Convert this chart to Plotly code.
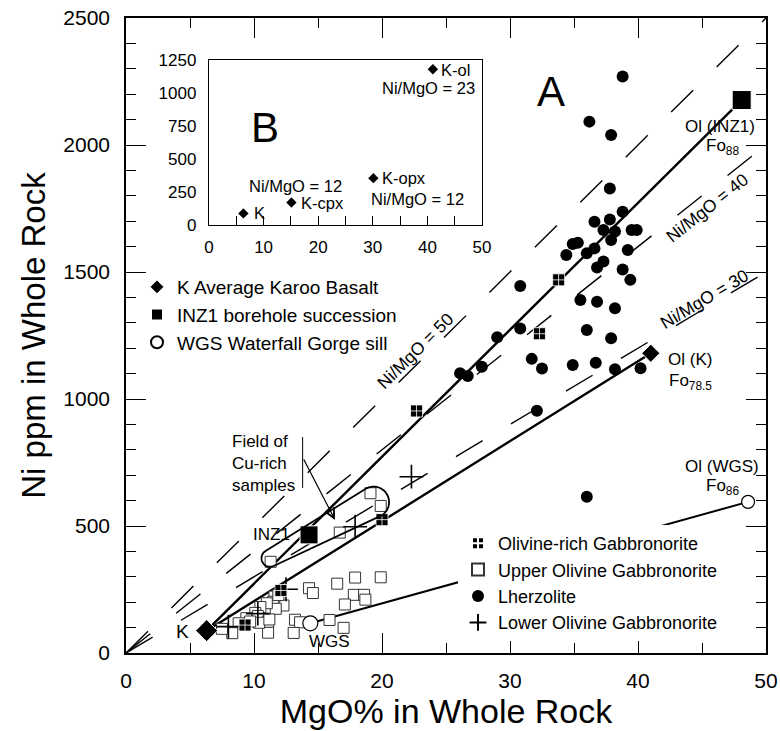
import math
import plotly.graph_objects as go

# ---------------- data ----------------
# Lherzolite (filled circles)
lherz_mgo = [38.8, 36.2, 37.9, 37.8, 38.8, 36.6, 37.8, 37.3, 38.2, 39.5, 39.9, 37.9,
             34.9, 35.3, 34.4, 36.6, 36.0, 37.3, 39.2, 38.8, 36.8, 39.4, 35.5, 36.8,
             38.2, 36.0, 37.9, 31.7, 32.5, 34.9, 36.7, 38.2, 40.2, 32.1, 30.8, 30.8,
             29.0, 26.1, 26.7, 27.8, 36.0]
lherz_ni = [2270, 2092, 2039, 1829, 1737, 1698, 1707, 1665, 1659, 1665, 1665, 1626,
            1610, 1615, 1567, 1593, 1574, 1541, 1587, 1510, 1518, 1469, 1390, 1383,
            1357, 1272, 1239, 1158, 1120, 1134, 1143, 1117, 1121, 954, 1445, 1278,
            1243, 1101, 1091, 1127, 615]

# Upper Olivine Gabbronorite (open squares)
uog_mgo = [19.1, 19.9, 16.7, 11.3, 14.3, 14.6, 16.5, 17.9, 19.9, 17.8, 17.1, 18.6,
           18.7, 15.9, 17.0, 13.2, 13.6, 13.1, 11.1, 12.3, 11.6, 11.5, 11.7, 11.0,
           10.5, 10.1, 9.4, 10.3, 11.1, 10.4, 8.8, 8.3, 7.5, 11.9, 11.2, 9.7]
uog_ni = [629, 579, 474, 359, 255, 236, 273, 297, 298, 229, 191, 229,
          210, 130, 99, 131, 121, 79, 80, 187, 222, 202, 174, 196,
          181, 158, 137, 146, 123, 119, 117, 78, 95, 228, 132, 124]

# Olivine-rich Gabbronorite
org_mgo = [22.7, 33.8, 32.3, 20.0, 12.1, 9.3]
org_ni = [953, 1469, 1257, 525, 246, 110]

# Lower Olivine Gabbronorite (+)
log_mgo = [17.9, 22.3, 12.5, 8.0, 10.3]
log_ni = [497, 694, 251, 104, 155]

# Reference compositions: [rock, olivine]
k_mgo = [6.3, 41.0]          # K average Karoo basalt, Ol (K) Fo78.5
k_ni = [88, 1180]
inz_mgo = [14.3, 48.1]       # INZ1 borehole succession, Ol (INZ1) Fo88
inz_ni = [465, 2177]
wgs_mgo = [14.4, 48.6]       # WGS Waterfall Gorge sill, Ol (WGS) Fo86
wgs_ni = [117, 595]

# Ni/MgO reference ratios (dashed lines)
ratio_values = [50, 40, 30]

# Inset B: K, K-cpx, K-opx, K-ol
inset_mgo = [6.3, 15.1, 30.1, 41.0]
inset_ni = [88, 170, 355, 1180]

# ---------------- layout constants ----------------
FONT = "Liberation Sans, Arial, Helvetica, sans-serif"
W, H = 780, 731
ML, MR, MT, MB = 126, 14, 18, 78
PW, PH = W - ML - MR, H - MT - MB
X_MAX, Y_MAX = 50, 2500
SX, SY = PW / X_MAX, PH / Y_MAX   # px per data unit

fig = go.Figure()

# dashed Ni/MgO lines through origin
for r in ratio_values:
    x_end = min(X_MAX, Y_MAX / r)
    fig.add_trace(go.Scatter(x=[0, x_end], y=[0, r * x_end], mode="lines",
                             line=dict(color="black", width=1.4, dash="31px,33px"),
                             showlegend=False, hoverinfo="skip"))

# solid tie lines
ties = [([k_mgo[0], inz_mgo[1]], [k_ni[0], inz_ni[1]], 2.4),
        ([k_mgo[0], k_mgo[1]], [k_ni[0], k_ni[1]], 2.4),
        ([wgs_mgo[0], wgs_mgo[1]], [wgs_ni[0], wgs_ni[1]], 2.0)]
for tx, ty, lw in ties:
    fig.add_trace(go.Scatter(x=tx, y=ty, mode="lines", line=dict(color="black", width=lw),
                             showlegend=False, hoverinfo="skip"))

# sample data
fig.add_trace(go.Scatter(x=uog_mgo, y=uog_ni, mode="markers", name="Upper Olivine Gabbronorite",
                         marker=dict(symbol="square", size=11, color="white", opacity=1,
                                     line=dict(color="#333", width=1)),
                         legend="legend2", legendrank=2))
fig.add_trace(go.Scatter(x=log_mgo, y=log_ni, mode="markers", name="Lower Olivine Gabbronorite",
                         marker=dict(symbol="cross-thin", size=17, color="black", opacity=1,
                                     line=dict(color="black", width=1.6)),
                         legend="legend2", legendrank=4))
fig.add_trace(go.Scatter(x=org_mgo, y=org_ni, mode="markers", name="Olivine-rich Gabbronorite",
                         marker=dict(symbol="square-cross", size=12, color="black", opacity=1,
                                     line=dict(color="white", width=0.8)),
                         legend="legend2", legendrank=1))
fig.add_trace(go.Scatter(x=lherz_mgo, y=lherz_ni, mode="markers", name="Lherzolite",
                         marker=dict(symbol="circle", size=12, color="black", opacity=1),
                         legend="legend2", legendrank=3))

# reference compositions
fig.add_trace(go.Scatter(x=k_mgo, y=k_ni, mode="markers", name="K Average Karoo Basalt",
                         marker=dict(symbol="diamond", size=[17, 14], color="black", opacity=1),
                         legend="legend", legendrank=1))
fig.add_trace(go.Scatter(x=inz_mgo, y=inz_ni, mode="markers", name="INZ1 borehole succession",
                         marker=dict(symbol="square", size=[18, 19], color="black", opacity=1),
                         legend="legend", legendrank=2))
fig.add_trace(go.Scatter(x=wgs_mgo, y=wgs_ni, mode="markers", name="WGS Waterfall Gorge sill",
                         marker=dict(symbol="circle", size=[15, 13], color="white", opacity=1,
                                     line=dict(color="black", width=1.2)),
                         legend="legend", legendrank=3))

# inset
fig.add_trace(go.Scatter(x=inset_mgo, y=inset_ni, mode="markers", xaxis="x2", yaxis="y2",
                         marker=dict(symbol="diamond", size=8, color="black", opacity=1),
                         showlegend=False, hoverinfo="skip"))

# ---------------- Cu-rich field outline (teardrop) ----------------
c1 = (11.25, 373.0); r1 = 8.5      # small end centre (data), radius (px)
c2 = (19.34, 594.0); r2 = 15.5     # large end centre (data), radius (px)
X1, Y1, X2, Y2 = c1[0] * SX, c1[1] * SY, c2[0] * SX, c2[1] * SY
d = math.hypot(X2 - X1, Y2 - Y1)
phi = math.atan2(Y2 - Y1, X2 - X1)
alpha = math.asin((r2 - r1) / d)
pts = []
n = 40
a0, a1 = phi - (math.pi / 2 + alpha), phi + (math.pi / 2 + alpha)
for i in range(n + 1):
    t = a0 + (a1 - a0) * i / n
    pts.append((X2 + r2 * math.cos(t), Y2 + r2 * math.sin(t)))
b0, b1 = phi + (math.pi / 2 + alpha), phi + 1.5 * math.pi - alpha
for i in range(n + 1):
    t = b0 + (b1 - b0) * i / n
    pts.append((X1 + r1 * math.cos(t), Y1 + r1 * math.sin(t)))
path = "M " + " L ".join(f"{px / SX:.4f},{py / SY:.3f}" for px, py in pts) + " Z"

shapes = [
    dict(type="path", path=path, xref="x", yref="y", line=dict(color="black", width=1.8)),
    dict(type="line", xref="x", yref="y", x0=13.8, x1=13.8, y0=650, y1=850,
         line=dict(color="black", width=1)),
]

# ---------------- annotations ----------------
def txt(x, y, s, size=17, xanchor="center", angle=0, xref="x", yref="y", align="center"):
    return dict(x=x, y=y, text=s, xref=xref, yref=yref, showarrow=False, xanchor=xanchor,
                yanchor="middle", textangle=angle, align=align, borderpad=0,
                font=dict(family=FONT, size=size, color="black"))

def ang(r):
    return -math.degrees(math.atan(r * SY / SX))

annotations = [
    txt(33.2, 2209, "A", 42),
    txt(46.4, 2072, "Ol (INZ1)"),
    txt(46.6, 1993, "Fo<sub>88</sub>"),
    txt(44.1, 1154, "Ol (K)"),
    txt(44.1, 1068, "Fo<sub>78.5</sub>"),
    txt(46.6, 733, "Ol (WGS)"),
    txt(46.6, 655, "Fo<sub>86</sub>"),
    txt(5.0, 83, "K", 19, xanchor="right"),
    txt(12.9, 465, "INZ1", 17, xanchor="right"),
    txt(15.9, 44, "WGS", 17),
    txt(22.6, 1189, "Ni/MgO = 50", 17.5, angle=ang(50)),
    txt(45.4, 1751, "Ni/MgO = 40", 17.5, angle=ang(40)),
    txt(45.2, 1394, "Ni/MgO = 30", 17.5, angle=ang(30)),
    txt(8.2, 748, "Field of<br>Cu-rich<br>samples", 17, xanchor="left", align="left"),
    dict(x=16.33, y=524, ax=13.83, ay=768, xref="x", yref="y", axref="x", ayref="y",
         text="", showarrow=True, arrowhead=5, arrowsize=1.6, arrowwidth=1.2,
         arrowcolor="black", standoff=0),
    # inset
    txt(10.2, 742, "B", 42, xref="x2", yref="y2"),
    txt(42.3, 1174, "K-ol", 16.5, xanchor="left", xref="x2", yref="y2"),
    txt(48.9, 1035, "Ni/MgO = 23", 16.5, xanchor="right", xref="x2", yref="y2"),
    txt(31.5, 358, "K-opx", 16.5, xanchor="left", xref="x2", yref="y2"),
    txt(38.1, 200, "Ni/MgO = 12", 16.5, xref="x2", yref="y2"),
    txt(15.9, 292, "Ni/MgO = 12", 16.5, xref="x2", yref="y2"),
    txt(16.6, 167, "K-cpx", 16.5, xanchor="left", xref="x2", yref="y2"),
    txt(8.1, 89, "K", 16.5, xanchor="left", xref="x2", yref="y2"),
]

axis_common = dict(showgrid=False, zeroline=False, showline=True, linecolor="black",
                   linewidth=1.6, ticks="inside", tickcolor="black", tickwidth=1.3,
                   mirror="ticks", ticklen=20, tickfont=dict(family=FONT, size=21, color="black"))

fig.update_layout(
    width=W, height=H, margin=dict(l=ML, r=MR, t=MT, b=MB, autoexpand=False),
    paper_bgcolor="white", plot_bgcolor="white",
    font=dict(family=FONT, color="black"),
    xaxis=dict(**axis_common, range=[0, X_MAX], tick0=0, dtick=10,
               minor=dict(dtick=5, ticks="inside", ticklen=10, tickcolor="black", tickwidth=1.3),
               ticklabelstandoff=8,
               title=dict(text="MgO% in Whole Rock", font=dict(family=FONT, size=34), standoff=4)),
    yaxis=dict(**axis_common, range=[0, Y_MAX], tick0=0, dtick=500,
               minor=dict(dtick=100, ticks="inside", ticklen=10, tickcolor="black", tickwidth=1.3),
               ticklabelstandoff=10,
               title=dict(text="Ni ppm in Whole Rock", font=dict(family=FONT, size=33), standoff=8)),
    xaxis2=dict(domain=[(209 - ML) / PW, (482 - ML) / PW], anchor="y2", range=[0, 50],
                tick0=0, dtick=10, showgrid=False, zeroline=False, showline=True,
                linecolor="black", linewidth=1.4, mirror=True, ticks="inside", ticklen=9,
                tickcolor="black", tickwidth=1.2,
                minor=dict(dtick=5, ticks="inside", ticklen=9, tickcolor="black", tickwidth=1.2),
                ticklabelstandoff=6, tickfont=dict(family=FONT, size=17, color="black")),
    yaxis2=dict(domain=[(H - MB - 225) / PH, (H - MB - 60) / PH], anchor="x2", range=[0, 1250],
                tick0=0, dtick=250, showgrid=False, zeroline=False, showline=True,
                linecolor="black", linewidth=1.4, mirror=True, ticks="",
                ticklabelstandoff=8, tickfont=dict(family=FONT, size=17, color="black")),
    legend=dict(x=(137 - ML) / PW, y=(H - MB - 268) / PH, xanchor="left", yanchor="top",
                bgcolor="rgba(0,0,0,0)", borderwidth=0, itemsizing="constant",
                traceorder="normal", font=dict(family=FONT, size=19, color="black")),
    legend2=dict(x=(458 - ML) / PW, y=(H - MB - 525) / PH, xanchor="left", yanchor="top",
                 bgcolor="white", borderwidth=0, itemsizing="constant",
                 traceorder="normal", font=dict(family=FONT, size=18, color="black")),
    shapes=shapes,
    annotations=annotations,
    showlegend=True,
)

fig.write_html("out.html")
